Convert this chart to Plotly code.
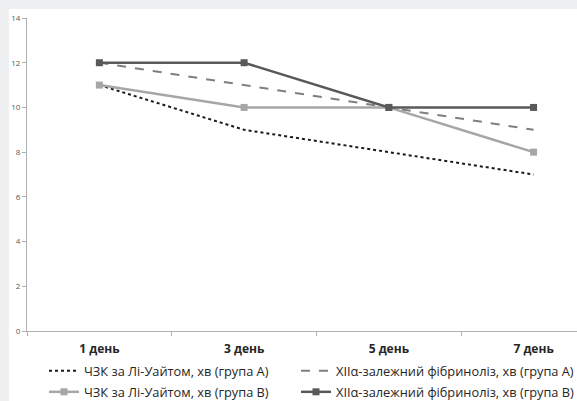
import plotly.graph_objects as go

categories = ["1 день", "3 день", "5 день", "7 день"]
chzk_a = [11, 9, 8, 7]
xii_a = [12, 11, 10, 9]
chzk_b = [11, 10, 10, 8]
xii_b = [12, 12, 10, 10]
names = [
    "ЧЗК за Лі-Уайтом, хв (група А)",
    "XIIα-залежний фібриноліз, хв (група А)",
    "ЧЗК за Лі-Уайтом, хв (група В)",
    "XIIα-залежний фібриноліз, хв (група В)",
]

W, H = 577, 401
L, R, T, B = 27, 0, 18, 70
pw, ph = W - L - R, H - T - B

font_family = "'Open Sans', Lato, sans-serif"
frame_grey = "#eff0f2"

fig = go.Figure()
fig.add_trace(go.Scatter(x=categories, y=chzk_a, name=names[0], mode="lines",
                         line=dict(color="#1a1a1a", width=2, dash="dot"), legend="legend"))
fig.add_trace(go.Scatter(x=categories, y=xii_a, name=names[1], mode="lines",
                         line=dict(color="#7f7f7f", width=2, dash="dash"), legend="legend2"))
fig.add_trace(go.Scatter(x=categories, y=chzk_b, name=names[2], mode="lines+markers",
                         line=dict(color="#a6a6a6", width=2.5),
                         marker=dict(symbol="square", size=7, color="#a6a6a6"), legend="legend3"))
fig.add_trace(go.Scatter(x=categories, y=xii_b, name=names[3], mode="lines+markers",
                         line=dict(color="#595959", width=2.5),
                         marker=dict(symbol="square", size=7, color="#595959"), legend="legend4"))

def px2paper_x(px):
    return (px - L) / pw

def px2paper_y(py):
    return (H - B - py) / ph

legend_common = dict(orientation="h", xanchor="left", yanchor="middle",
                     bgcolor="rgba(0,0,0,0)",
                     font=dict(family=font_family, size=12.8, color="#262626"))

col1, col2 = 44, 296
row1, row2 = 371, 392

frame = [
    dict(type="rect", xref="paper", yref="paper",
         x0=px2paper_x(-5), x1=px2paper_x(W + 5), y0=px2paper_y(-5), y1=px2paper_y(9),
         fillcolor=frame_grey, line=dict(width=0), layer="below"),
    dict(type="rect", xref="paper", yref="paper",
         x0=px2paper_x(-5), x1=px2paper_x(9), y0=px2paper_y(-5), y1=px2paper_y(H + 5),
         fillcolor=frame_grey, line=dict(width=0), layer="below"),
]

fig.update_layout(
    width=W, height=H,
    margin=dict(l=L, r=R, t=T, b=B, pad=0, autoexpand=False),
    paper_bgcolor="white",
    plot_bgcolor="white",
    font=dict(family=font_family, color="#404040"),
    showlegend=True,
    legend=dict(**legend_common, x=px2paper_x(col1), y=px2paper_y(row1)),
    legend2=dict(**legend_common, x=px2paper_x(col2), y=px2paper_y(row1)),
    legend3=dict(**legend_common, x=px2paper_x(col1), y=px2paper_y(row2)),
    legend4=dict(**legend_common, x=px2paper_x(col2), y=px2paper_y(row2)),
    shapes=frame,
    xaxis=dict(type="category", range=[-0.5, 3.3], showgrid=False, zeroline=False,
               showline=True, linecolor="#b0b0b0", linewidth=1,
               ticks="outside", tickson="boundaries", ticklen=4, tickcolor="#b0b0b0",
               tickfont=dict(family=font_family, size=12, color="#262626", weight="bold"),
               ticklabelstandoff=7),
    yaxis=dict(range=[0, 14], dtick=2, showgrid=False, zeroline=False,
               showline=True, linecolor="#b0b0b0", linewidth=1,
               ticks="outside", ticklen=4, tickcolor="#b0b0b0",
               tickfont=dict(family=font_family, size=8, color="#595959")),
)

fig.write_html("out.html", config={"displayModeBar": False},
               post_script="document.body.style.margin='0';document.body.style.background='white';")
